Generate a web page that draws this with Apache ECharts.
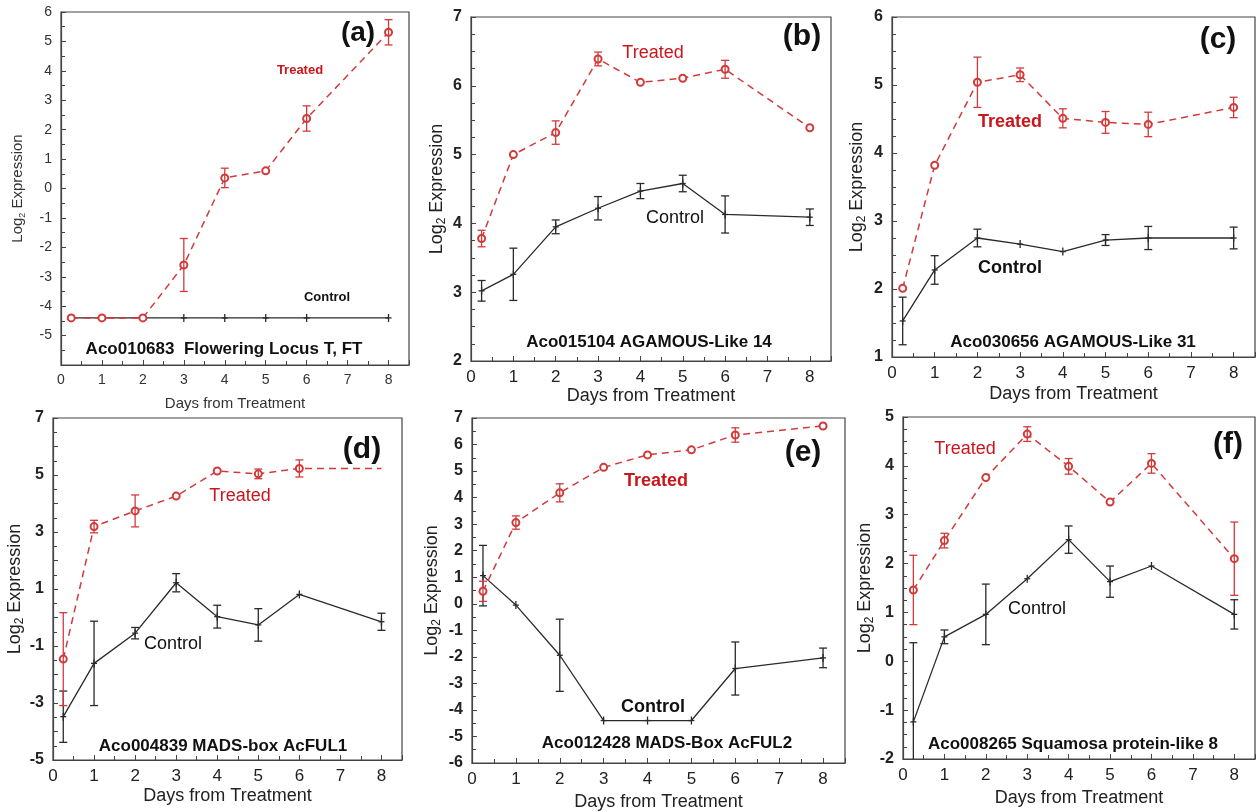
<!DOCTYPE html>
<html>
<head>
<meta charset="utf-8">
<script src="https://cdn.jsdelivr.net/npm/echarts@6/dist/echarts.min.js"></script>
<style>
  html, body { margin: 0; padding: 0; background: #fff; }
  #chart { width: 1258px; height: 812px; }
</style>
</head>
<body>
<div id="chart"></div>
<script>
const days = [0.25, 1, 2, 3, 4, 5, 6, 8];

const treatedA = [-4.4, -4.4, -4.4, -2.6, 0.36, 0.6, 2.38, 5.31];
const treatedErrA = [0, 0, 0, 0.9, 0.33, 0, 0.43, 0.43];
const controlA = [-4.4, -4.4, -4.4, -4.4, -4.4, -4.4, -4.4, -4.4];
const controlErrA = [0, 0, 0, 0, 0, 0, 0, 0];

const treatedB = [3.78, 5.0, 5.32, 6.39, 6.05, 6.11, 6.24, 5.39];
const treatedErrB = [0.12, 0, 0.17, 0.1, 0, 0, 0.13, 0];
const controlB = [3.02, 3.26, 3.95, 4.22, 4.47, 4.58, 4.13, 4.09];
const controlErrB = [0.15, 0.38, 0.1, 0.17, 0.11, 0.12, 0.27, 0.12];

const treatedC = [2.01, 3.82, 5.04, 5.15, 4.51, 4.45, 4.42, 4.67];
const treatedErrC = [0, 0, 0.37, 0.1, 0.14, 0.16, 0.18, 0.15];
const controlC = [1.53, 2.28, 2.75, 2.66, 2.55, 2.72, 2.75, 2.75];
const controlErrC = [0.35, 0.21, 0.13, 0, 0, 0.08, 0.17, 0.16];

const treatedD = [-1.46, 3.19, 3.74, 4.26, 5.14, 5.04, 5.23, 5.23];
const treatedErrD = [1.63, 0.22, 0.56, 0, 0, 0.17, 0.3, 0];
const controlD = [-3.48, -1.61, -0.55, 1.22, 0.03, -0.26, 0.81, -0.15];
const controlErrD = [0.9, 1.48, 0.2, 0.32, 0.4, 0.57, 0, 0.3];

const treatedE = [0.47, 3.06, 4.18, 5.14, 5.61, 5.8, 6.36, 6.7];
const treatedErrE = [0.38, 0.25, 0.34, 0, 0, 0, 0.27, 0];
const controlE = [1.06, -0.05, -1.94, -4.4, -4.4, -4.4, -2.44, -2.04];
const controlErrE = [1.14, 0, 1.36, 0, 0, 0, 1.0, 0.37];

const treatedF = [1.46, 2.47, 3.76, 4.65, 3.99, 3.26, 4.05, 2.1];
const treatedErrF = [0.71, 0.15, 0, 0.15, 0.16, 0, 0.2, 0.75];
const controlF = [-1.24, 0.5, 0.96, 1.69, 2.49, 1.63, 1.95, 0.96];
const controlErrF = [1.62, 0.14, 0.62, 0, 0.28, 0.32, 0, 0.3];

const panelTags = ['(a)', '(b)', '(c)', '(d)', '(e)', '(f)'];
const geneNames = [
    'Aco010683  Flowering Locus T, FT',
    'Aco015104 AGAMOUS-Like 14',
    'Aco030656 AGAMOUS-Like 31',
    'Aco004839 MADS-box AcFUL1',
    'Aco012428 MADS-Box AcFUL2',
    'Aco008265 Squamosa protein-like 8'
];
const xTitle = 'Days from Treatment';

const FONT = '"Liberation Sans", Arial, sans-serif';
const RED = '#d23a3a';
const RED_TEXT = '#c8161c';
const DARK = '#2a2a2a';

// layout of the six panels (pixels) and their axes
const panels = [
    {grid: [61, 12, 348, 353], y: [-6, 6, 1, 2], treated: treatedA, tErr: treatedErrA, control: controlA, cErr: controlErrA,
     small: true, xGap: 31, yGap: 34, tag: [358, 33], treatedAt: [300, 70], controlAt: [327, 297], geneAt: [224, 349],
     boldNotes: true, hideMin: true},
    {grid: [471, 17, 360, 344], y: [2, 7, 1, 4], treated: treatedB, tErr: treatedErrB, control: controlB, cErr: controlErrB,
     xGap: 25, yGap: 23, tag: [802, 37], treatedAt: [653, 53], controlAt: [675, 218], geneAt: [649, 342]},
    {grid: [892, 17, 368, 340], y: [1, 6, 1, 4], treated: treatedC, tErr: treatedErrC, control: controlC, cErr: controlErrC,
     xGap: 28, yGap: 24, tag: [1218, 40], treatedAt: [1010, 122], controlAt: [1010, 268], geneAt: [1073, 342], boldNotes: true},
    {grid: [53, 418, 349, 342], y: [-5, 7, 1, 2], treated: treatedD, tErr: treatedErrD, control: controlD, cErr: controlErrD,
     xGap: 27, yGap: 27, tag: [362, 450], treatedAt: [240, 496], controlAt: [173, 644], geneAt: [223, 746],
     oddOnly: true, lastBare: true},
    {grid: [472, 418, 373, 347], y: [-6, 7, 1, 2], treated: treatedE, tErr: treatedErrE, control: controlE, cErr: controlErrE,
     xGap: 30, yGap: 29, tag: [803, 453], treatedAt: [656, 481], controlAt: [653, 707], geneAt: [667, 743], boldNotes: true},
    {grid: [903, 417, 357, 342], y: [-2, 5, 1, 4], treated: treatedF, tErr: treatedErrF, control: controlF, cErr: controlErrF,
     xGap: 30, yGap: 18, tag: [1228, 445], treatedAt: [965, 449], controlAt: [1037, 609], geneAt: [1073, 744]}
];

function errorBarRender(color, withPlus) {
    return function (params, api) {
        const x = api.value(0);
        const y = api.value(1);
        const e = api.value(2);
        const c = api.coord([x, y]);
        const box = params.coordSys;
        const bottom = box.y + box.height;
        const children = [];
        const style = {stroke: color, lineWidth: 1.3};
        if (e > 0) {
            const hi = api.coord([x, y + e]);
            const lo = api.coord([x, y - e]);
            const loY = Math.min(lo[1], bottom);
            children.push({type: 'line', shape: {x1: c[0], y1: hi[1], x2: c[0], y2: loY}, style});
            children.push({type: 'line', shape: {x1: c[0] - 4, y1: hi[1], x2: c[0] + 4, y2: hi[1]}, style});
            if (lo[1] <= bottom) {
                children.push({type: 'line', shape: {x1: c[0] - 4, y1: lo[1], x2: c[0] + 4, y2: lo[1]}, style});
            }
        }
        if (withPlus) {
            children.push({type: 'line', shape: {x1: c[0], y1: c[1] - 4, x2: c[0], y2: c[1] + 4}, style});
            children.push({type: 'line', shape: {x1: c[0] - 3, y1: c[1], x2: c[0] + 3, y2: c[1]}, style});
        }
        return {type: 'group', children};
    };
}

const chart = echarts.init(document.getElementById('chart'), null, {renderer: 'canvas'});

const grids = [];
const xAxes = [];
const yAxes = [];
const series = [];
const graphics = [];

panels.forEach((p, i) => {
    const tickSize = p.small ? 14 : 16;
    const xTickSize = p.small ? 14 : 17;
    const titleSize = p.small ? 15 : 18;
    const labelColor = p.small ? '#333' : '#222';

    grids.push({
        left: p.grid[0], top: p.grid[1], width: p.grid[2], height: p.grid[3],
        show: true, borderColor: '#444', borderWidth: 1.2, backgroundColor: 'transparent'
    });

    xAxes.push({
        type: 'value', gridIndex: i, min: 0, max: 8.5, interval: 1,
        name: xTitle, nameLocation: 'middle', nameGap: p.xGap,
        nameTextStyle: {fontFamily: FONT, fontSize: titleSize, color: labelColor},
        axisLine: {show: true, onZero: false, lineStyle: {color: '#444', width: 1.2}},
        axisTick: {show: true, inside: true, length: 5, lineStyle: {color: '#444'}},
        minorTick: {show: true, splitNumber: 2, length: 4, lineStyle: {color: '#444'}},
        splitLine: {show: false},
        axisLabel: {
            fontFamily: FONT, fontSize: xTickSize, color: labelColor, margin: 8,
            formatter: (v) => (Number.isInteger(v) ? String(v) : '')
        }
    });

    yAxes.push({
        type: 'value', gridIndex: i, min: p.y[0], max: p.y[1], interval: p.y[2],
        name: '{n|Log}{s|2}{n| Expression}', nameLocation: 'middle', nameGap: p.yGap,
        nameTextStyle: {
            fontFamily: FONT, fontSize: titleSize, color: labelColor,
            rich: {
                n: {fontFamily: FONT, fontSize: titleSize, color: labelColor, lineHeight: titleSize + 4},
                s: {fontFamily: FONT, fontSize: titleSize - 6, color: labelColor, verticalAlign: 'bottom', lineHeight: titleSize - 6}
            }
        },
        axisLine: {show: true, onZero: false, lineStyle: {color: '#444', width: 1.2}},
        axisTick: {show: true, inside: true, length: 5, lineStyle: {color: '#444'}},
        minorTick: {show: true, splitNumber: p.y[3], length: 4, lineStyle: {color: '#444'}},
        splitLine: {show: false},
        axisLabel: {
            fontFamily: FONT, fontSize: tickSize, color: labelColor, margin: 9,
            fontWeight: p.small ? 'normal' : 'bold',
            formatter: (v) => {
                if (p.hideMin && v === p.y[0]) return '';
                if (p.oddOnly && Math.abs(v % 2) !== 1) return '';
                return String(v);
            }
        }
    });

    const controlPts = days.map((d, k) => [d, p.control[k], p.cErr[k]]);
    const treatedPts = days.map((d, k) => {
        const item = {value: [d, p.treated[k], p.tErr[k]]};
        if (p.lastBare && k === days.length - 1) item.symbol = 'none';
        return item;
    });

    series.push({
        type: 'line', xAxisIndex: i, yAxisIndex: i, data: controlPts.map((pt) => [pt[0], pt[1]]),
        symbol: 'none', lineStyle: {color: DARK, width: 1.3}, z: 2, animation: false
    });
    series.push({
        type: 'custom', xAxisIndex: i, yAxisIndex: i, data: controlPts,
        renderItem: errorBarRender(DARK, true), z: 3, animation: false
    });
    series.push({
        type: 'line', xAxisIndex: i, yAxisIndex: i, data: treatedPts,
        symbol: 'emptyCircle', symbolSize: 7,
        itemStyle: {color: RED, borderColor: RED, borderWidth: 1.2},
        lineStyle: {color: RED, width: 1.5, type: [7, 5]}, z: 4, animation: false
    });
    series.push({
        type: 'custom', xAxisIndex: i, yAxisIndex: i, data: treatedPts.map((it) => it.value),
        renderItem: errorBarRender(RED, false), z: 5, animation: false
    });

    const noteSize = p.small ? 13 : 18;
    const noteWeight = p.boldNotes ? 'bold' : 'normal';
    graphics.push({
        type: 'text', x: p.tag[0], y: p.tag[1], z: 10,
        style: {text: panelTags[i], fontFamily: FONT, fontSize: p.small ? 28 : 30, fontWeight: 'bold',
                fill: '#111', align: 'center', verticalAlign: 'middle'}
    });
    graphics.push({
        type: 'text', x: p.treatedAt[0], y: p.treatedAt[1], z: 10,
        style: {text: 'Treated', fontFamily: FONT, fontSize: noteSize, fontWeight: noteWeight,
                fill: RED_TEXT, align: 'center', verticalAlign: 'middle'}
    });
    graphics.push({
        type: 'text', x: p.controlAt[0], y: p.controlAt[1], z: 10,
        style: {text: 'Control', fontFamily: FONT, fontSize: noteSize, fontWeight: noteWeight,
                fill: '#111', align: 'center', verticalAlign: 'middle'}
    });
    graphics.push({
        type: 'text', x: p.geneAt[0], y: p.geneAt[1], z: 10,
        style: {text: geneNames[i], fontFamily: FONT, fontSize: 17, fontWeight: 'bold',
                fill: '#111', align: 'center', verticalAlign: 'middle'}
    });
});

chart.setOption({
    backgroundColor: '#fff',
    animation: false,
    grid: grids,
    xAxis: xAxes,
    yAxis: yAxes,
    series: series,
    graphic: graphics
});
</script>
</body>
</html>
